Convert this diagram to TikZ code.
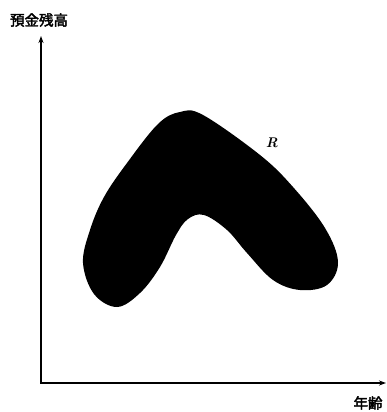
\documentclass[tikz,border=0pt]{standalone}
\usepackage{fontspec}
\newfontfamily\cjk{Noto Sans CJK JP}[AutoFakeBold=2.5]
\usetikzlibrary{arrows.meta}
\begin{document}
\begin{tikzpicture}[x=1pt,y=-1pt,
  axis/.style={line width=1.4pt,-{Stealth[length=7pt,width=5pt]}},
  lbl/.style={font=\cjk\bfseries\fontsize{14.5}{14.5}\selectfont,inner sep=0pt}]
\useasboundingbox (0,0) rectangle (387,412);
\coordinate (O) at (41,383);
\coordinate (Ytop) at (41,36);
\coordinate (Xend) at (386,383);
\draw[axis] (O) -- (Ytop);
\draw[axis] ([xshift=-0.7pt]O) -- (Xend);
\node[lbl] (ylab) at (39,20) {預金残高};
\node[lbl] (xlab) at (368,403) {年齢};
\fill[black] plot[smooth cycle, tension=0.6] coordinates {
 (180,112) (203,115) (260,155) (293,187) (325,228) (338,262)
 (327,285) (300,290) (273,280) (247,253) (227,230) (204,215)
 (188,219) (176,235) (160,267) (140,293) (117,307) (94,294)
 (83,263) (90,230) (104,197) (127,163) (158,124)};
\node[font=\bfseries\itshape\fontsize{14}{14}\selectfont,inner sep=0pt] (R) at (272,143) {R};
\end{tikzpicture}
\end{document}
